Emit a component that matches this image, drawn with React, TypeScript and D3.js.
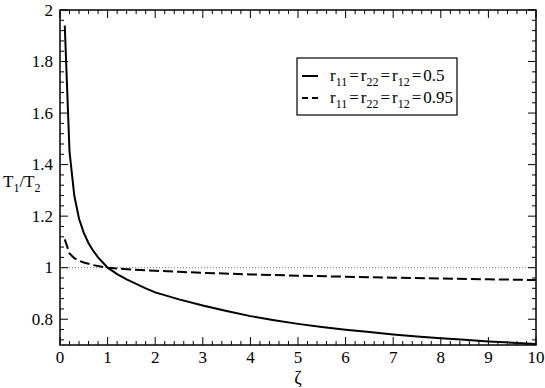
import React, { useEffect, useRef } from 'react';
import * as d3 from 'd3';

// solid curve: r11=r22=r12=0.5
const zetaSolid = [0.1, 0.2, 0.3, 0.4, 0.5, 0.6, 0.7, 0.8, 0.9, 1, 1.2, 1.4, 1.6, 1.8, 2, 2.5, 3, 3.5, 4, 4.5, 5, 5.5, 6, 6.5, 7, 7.5, 8, 8.5, 9, 9.5, 10];
const ratioSolid = [1.94, 1.45, 1.28, 1.19, 1.135, 1.095, 1.065, 1.04, 1.02, 1.0, 0.975, 0.955, 0.937, 0.92, 0.904, 0.877, 0.853, 0.832, 0.812, 0.796, 0.782, 0.77, 0.759, 0.75, 0.741, 0.733, 0.726, 0.72, 0.714, 0.709, 0.704];

// dashed curve: r11=r22=r12=0.95
const zetaDashed = [0.1, 0.2, 0.3, 0.4, 0.5, 0.7, 1, 1.5, 2, 2.5, 3, 4, 5, 6, 7, 8, 9, 10];
const ratioDashed = [1.11, 1.055, 1.037, 1.027, 1.02, 1.01, 1.0, 0.993, 0.988, 0.984, 0.98, 0.974, 0.969, 0.965, 0.961, 0.958, 0.955, 0.952];

const xTicks = [0, 1, 2, 3, 4, 5, 6, 7, 8, 9, 10];
const yTicks = [0.8, 1, 1.2, 1.4, 1.6, 1.8, 2];

const FONT = "'Liberation Serif', 'Times New Roman', Times, 'DejaVu Serif', serif";

const App = () => {
  const svgRef = useRef<SVGSVGElement>(null);

  useEffect(() => {
    const svg = d3.select(svgRef.current);
    svg.selectAll('*').remove();

    const x = d3.scaleLinear().domain([0, 10]).range([60, 536]);
    const y = d3.scaleLinear().domain([0.7, 2]).range([345, 10]);
    const [x0, x1] = x.range();
    const [y0, y1] = y.range();

    // reference line at 1
    svg.append('line')
      .attr('x1', x(0)).attr('x2', x(10)).attr('y1', y(1)).attr('y2', y(1))
      .attr('stroke', '#777').attr('stroke-width', 1).attr('stroke-dasharray', '1,2');

    const line = d3.line<[number, number]>().x(d => x(d[0])).y(d => y(d[1]));

    svg.append('path')
      .datum(zetaSolid.map((z, i) => [z, ratioSolid[i]] as [number, number]))
      .attr('fill', 'none').attr('stroke', '#000').attr('stroke-width', 2)
      .attr('d', line);

    svg.append('path')
      .datum(zetaDashed.map((z, i) => [z, ratioDashed[i]] as [number, number]))
      .attr('fill', 'none').attr('stroke', '#000').attr('stroke-width', 2)
      .attr('stroke-dasharray', '10,4')
      .attr('d', line);

    // frame
    svg.append('rect')
      .attr('x', x0).attr('y', y1).attr('width', x1 - x0).attr('height', y0 - y1)
      .attr('fill', 'none').attr('stroke', '#000').attr('stroke-width', 1.5);

    const ticks = svg.append('g').attr('stroke', '#000').attr('stroke-width', 1);
    const xMinor = d3.range(0, 10.001, 0.2);
    const yMinor = d3.range(0.72, 2.001, 0.04);
    const major = 8, minor = 4;

    xMinor.forEach(v => {
      const isMajor = Math.abs(v - Math.round(v)) < 1e-6;
      const len = isMajor ? major : minor;
      ticks.append('line').attr('x1', x(v)).attr('x2', x(v)).attr('y1', y0).attr('y2', y0 - len);
      ticks.append('line').attr('x1', x(v)).attr('x2', x(v)).attr('y1', y1).attr('y2', y1 + len);
    });
    yMinor.forEach(v => {
      const isMajor = Math.abs(v * 5 - Math.round(v * 5)) < 1e-6;
      const len = isMajor ? major : minor;
      ticks.append('line').attr('x1', x0).attr('x2', x0 + len).attr('y1', y(v)).attr('y2', y(v));
      ticks.append('line').attr('x1', x1).attr('x2', x1 - len).attr('y1', y(v)).attr('y2', y(v));
    });

    const labels = svg.append('g').style('font-family', FONT).attr('fill', '#000');

    labels.append('g').selectAll('text').data(xTicks).enter().append('text')
      .attr('x', d => x(d)).attr('y', 363)
      .attr('text-anchor', 'middle').style('font-size', '17px')
      .text(d => String(d));

    labels.append('g').selectAll('text').data(yTicks).enter().append('text')
      .attr('x', 53).attr('y', d => y(d) + 5.5)
      .attr('text-anchor', 'end').style('font-size', '17px')
      .text(d => String(d));

    // axis labels
    labels.append('text')
      .attr('x', (x0 + x1) / 2).attr('y', 384)
      .attr('text-anchor', 'middle').style('font-size', '18px')
      .text('ζ');

    const base = 187;
    const yl = labels.append('text').style('font-size', '17px');
    yl.append('tspan').attr('x', 3).attr('y', base).text('T');
    yl.append('tspan').attr('y', base + 5).style('font-size', '12px').text('1');
    yl.append('tspan').attr('y', base).text('/T');
    yl.append('tspan').attr('y', base + 5).style('font-size', '12px').text('2');

    // legend
    const legend = svg.append('g').style('font-family', FONT);
    legend.append('rect')
      .attr('x', 297).attr('y', 58).attr('width', 160).attr('height', 57)
      .attr('fill', '#fff').attr('stroke', '#000').attr('stroke-width', 1.2);

    const entries = [
      { value: '0.5', dash: null as string | null, yy: 76 },
      { value: '0.95', dash: '6,4', yy: 98 }
    ];
    entries.forEach(e => {
      legend.append('line')
        .attr('x1', 302).attr('x2', 318).attr('y1', e.yy).attr('y2', e.yy)
        .attr('stroke', '#000').attr('stroke-width', 2)
        .attr('stroke-dasharray', e.dash);
      const b = e.yy + 5;
      const t = legend.append('text').style('font-size', '17px');
      t.append('tspan').attr('x', 330).attr('y', b).text('r');
      t.append('tspan').attr('y', b + 5).style('font-size', '12px').text('11');
      t.append('tspan').attr('y', b).attr('dx', 2).text('=');
      t.append('tspan').attr('dx', 2).text('r');
      t.append('tspan').attr('y', b + 5).style('font-size', '12px').text('22');
      t.append('tspan').attr('y', b).attr('dx', 2).text('=');
      t.append('tspan').attr('dx', 2).text('r');
      t.append('tspan').attr('y', b + 5).style('font-size', '12px').text('12');
      t.append('tspan').attr('y', b).attr('dx', 2).text('=');
      t.append('tspan').attr('dx', 2).text(e.value);
    });
  }, []);

  return (
    <svg ref={svgRef} width={545} height={388}
      style={{ position: 'absolute', left: 0, top: 0, background: '#fff', fontFamily: FONT }} />
  );
};

export default App;
